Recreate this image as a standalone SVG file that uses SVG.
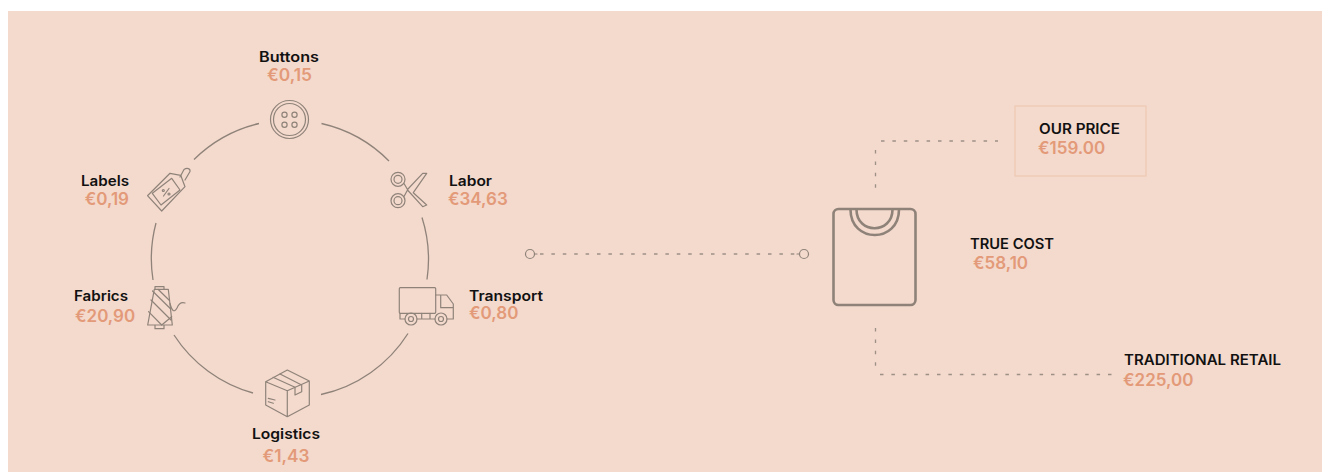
<svg xmlns="http://www.w3.org/2000/svg" width="1322" height="472" viewBox="0 0 1322 472">
<style>
.lbl{font-family:"Inter","Liberation Sans",sans-serif;font-size:14px;font-weight:600;fill:#111}
.val{font-family:"Inter","Liberation Sans",sans-serif;font-size:17px;font-weight:600;fill:#e39a78}
.ic{fill:none;stroke:#8f8379;stroke-width:1.200;stroke-linejoin:round;stroke-linecap:round}
.tee{fill:none;stroke:#8f8379;stroke-width:2.600}
.arc{fill:none;stroke:#8f8379;stroke-width:1.300}
.dot{fill:none;stroke:#9c9087;stroke-width:1.300;stroke-dasharray:3.500 7.900}
</style>
<rect x="0" y="0" width="1322" height="472" fill="#ffffff"/>
<rect x="8" y="11" width="1314" height="461" fill="#f4d9cd"/>
<g id="connectors">
<path class="arc" d="M259 123.500A138 138 0 0 0 194 159.500"/>
<path class="arc" d="M321.500 123.500A138 138 0 0 1 389 161"/>
<path class="arc" d="M156 223A138 138 0 0 0 153 280"/>
<path class="arc" d="M422 217.500A138 138 0 0 1 427 279.500"/>
<path class="arc" d="M174 335A138 138 0 0 0 253 393"/>
<path class="arc" d="M408 333.500A138 138 0 0 1 321 394.500"/>
<path class="dot" d="M540 254H798"/>
<circle class="ic" cx="530" cy="254" r="4.500"/><path class="ic" d="M534.500 254H537"/>
<circle class="ic" cx="804" cy="254" r="4.500"/><path class="ic" d="M797 254H799.500"/>
<path class="dot" d="M875.500 150V188"/>
<path class="dot" d="M881 141H998"/>
<path class="dot" d="M875.500 328V366"/>
<path class="dot" d="M880 374.500H1112"/>
</g>
<g id="buttons">
<circle class="ic" cx="289.500" cy="119.500" r="19"/><circle class="ic" cx="289.500" cy="119.500" r="16"/>
<circle class="ic" cx="284.500" cy="114.700" r="2.600"/><circle class="ic" cx="294.500" cy="114.700" r="2.600"/><circle class="ic" cx="284.500" cy="124.700" r="2.600"/><circle class="ic" cx="294.500" cy="124.700" r="2.600"/>
<text class="lbl" x="259" y="61.500" textLength="60" lengthAdjust="spacingAndGlyphs">Buttons</text><text class="val" x="289.500" y="81" text-anchor="middle" textLength="45" lengthAdjust="spacingAndGlyphs">€0,15</text>
</g>
<g id="labels">
<path class="ic" d="M147.500 195.700L170 173.300L180.700 175.300L185 186.700L161.700 211Z"/>
<path class="ic" d="M152.300 193.300L171.700 178.300L180 190L161 205Z"/>
<path class="ic" d="M180 177L184 169.500C187 167.500 190.500 168.500 190 171.500L185 180"/>
<path class="ic" d="M163.500 196L169 188.500"/><circle class="ic" cx="163.300" cy="190.500" r="1"/><circle class="ic" cx="169" cy="194" r="1"/>
<text class="lbl" x="81" y="186" textLength="48" lengthAdjust="spacingAndGlyphs">Labels</text><text class="val" x="129" y="204.500" text-anchor="end">€0,19</text>
</g>
<g id="labor">
<circle class="ic" cx="398" cy="179.300" r="7"/><circle class="ic" cx="398" cy="179.300" r="4"/>
<circle class="ic" cx="398" cy="200.700" r="7"/><circle class="ic" cx="398" cy="200.700" r="4"/>
<path class="ic" d="M404 183.500L407.500 189.500L422.700 173.300H426.700L413.300 192.700L426.700 205L422.700 206.700L407.500 190L404 196.500"/>
<text class="lbl" x="449" y="186" textLength="43" lengthAdjust="spacingAndGlyphs">Labor</text><text class="val" x="448" y="204.500">€34,63</text>
</g>
<g id="transport">
<rect class="ic" x="399.300" y="287.700" width="36.400" height="25.600" rx="1"/>
<path class="ic" d="M435.700 295H446.700L453.300 304V319H447M440.700 295.700V307.700H453M400 313.300V319H405M417 319H435M421.700 313.300V319M430 313.300V319"/>
<circle class="ic" cx="411" cy="319" r="6"/><circle class="ic" cx="411" cy="319" r="2.500"/><circle class="ic" cx="441" cy="319" r="6"/><circle class="ic" cx="441" cy="319" r="2.500"/>
<text class="lbl" x="469" y="300.500" textLength="74" lengthAdjust="spacingAndGlyphs">Transport</text><text class="val" x="469" y="318.500">€0,80</text>
</g>
<g id="fabrics">
<path class="ic" d="M154.300 289.300H168.300L172.300 325H147.700ZM155 289.300V286.700H164V289.300M155 325V328.700H164V325"/>
<path class="ic" d="M152.500 291L170 308.300M151 300L171 320M148.500 311.700L161.700 325M171.700 316.700L161.700 325M158 289.300L169 300"/>
<path class="ic" d="M170 303.500C172 311 174 313 177 308C179 303 182 302 185 303"/>
<text class="lbl" x="74" y="301" textLength="54" lengthAdjust="spacingAndGlyphs">Fabrics</text><text class="val" x="75" y="321.500">€20,90</text>
</g>
<g id="logistics">
<path class="ic" d="M265.700 381.700L287.300 370L309.300 381V405L287.300 416.700L265.700 405ZM265.700 381.700L287.300 390.700L309.300 381M287.300 390.700V416.700"/>
<path class="ic" d="M273 377.300L295 387.300V395L301.700 391.700V385L280 374"/>
<path class="ic" d="M268.300 398.300L275 400M268.300 401.700L273.300 403.300"/>
<text class="lbl" x="252" y="439" textLength="68" lengthAdjust="spacingAndGlyphs">Logistics</text><text class="val" x="286" y="462" text-anchor="middle" textLength="47" lengthAdjust="spacingAndGlyphs">€1,43</text>
</g>
<g id="true-cost">
<rect class="tee" x="833.500" y="209" width="82" height="96" rx="5"/>
<path class="tee" d="M850.500 209.500C850.500 243.500 899 243.500 899 209.500M856.500 209.500C856.500 234.500 892.500 234.500 892.500 209.500" stroke-width="2.200"/>
<text class="lbl" x="970" y="248.500" textLength="84" lengthAdjust="spacingAndGlyphs">TRUE COST</text><text class="val" x="973" y="268.500">€58,10</text>
</g>
<g id="our-price">
<rect x="1015" y="106" width="131" height="70" fill="none" stroke="#efc9b3" stroke-width="1.200"/>
<text class="lbl" x="1039" y="133.500" textLength="81" lengthAdjust="spacingAndGlyphs">OUR PRICE</text><text class="val" x="1038" y="153.500">€159.00</text>
</g>
<g id="traditional-retail">
<text class="lbl" x="1124" y="364.500" textLength="157" lengthAdjust="spacingAndGlyphs">TRADITIONAL RETAIL</text><text class="val" x="1123" y="385.500">€225,00</text>
</g>
</svg>
